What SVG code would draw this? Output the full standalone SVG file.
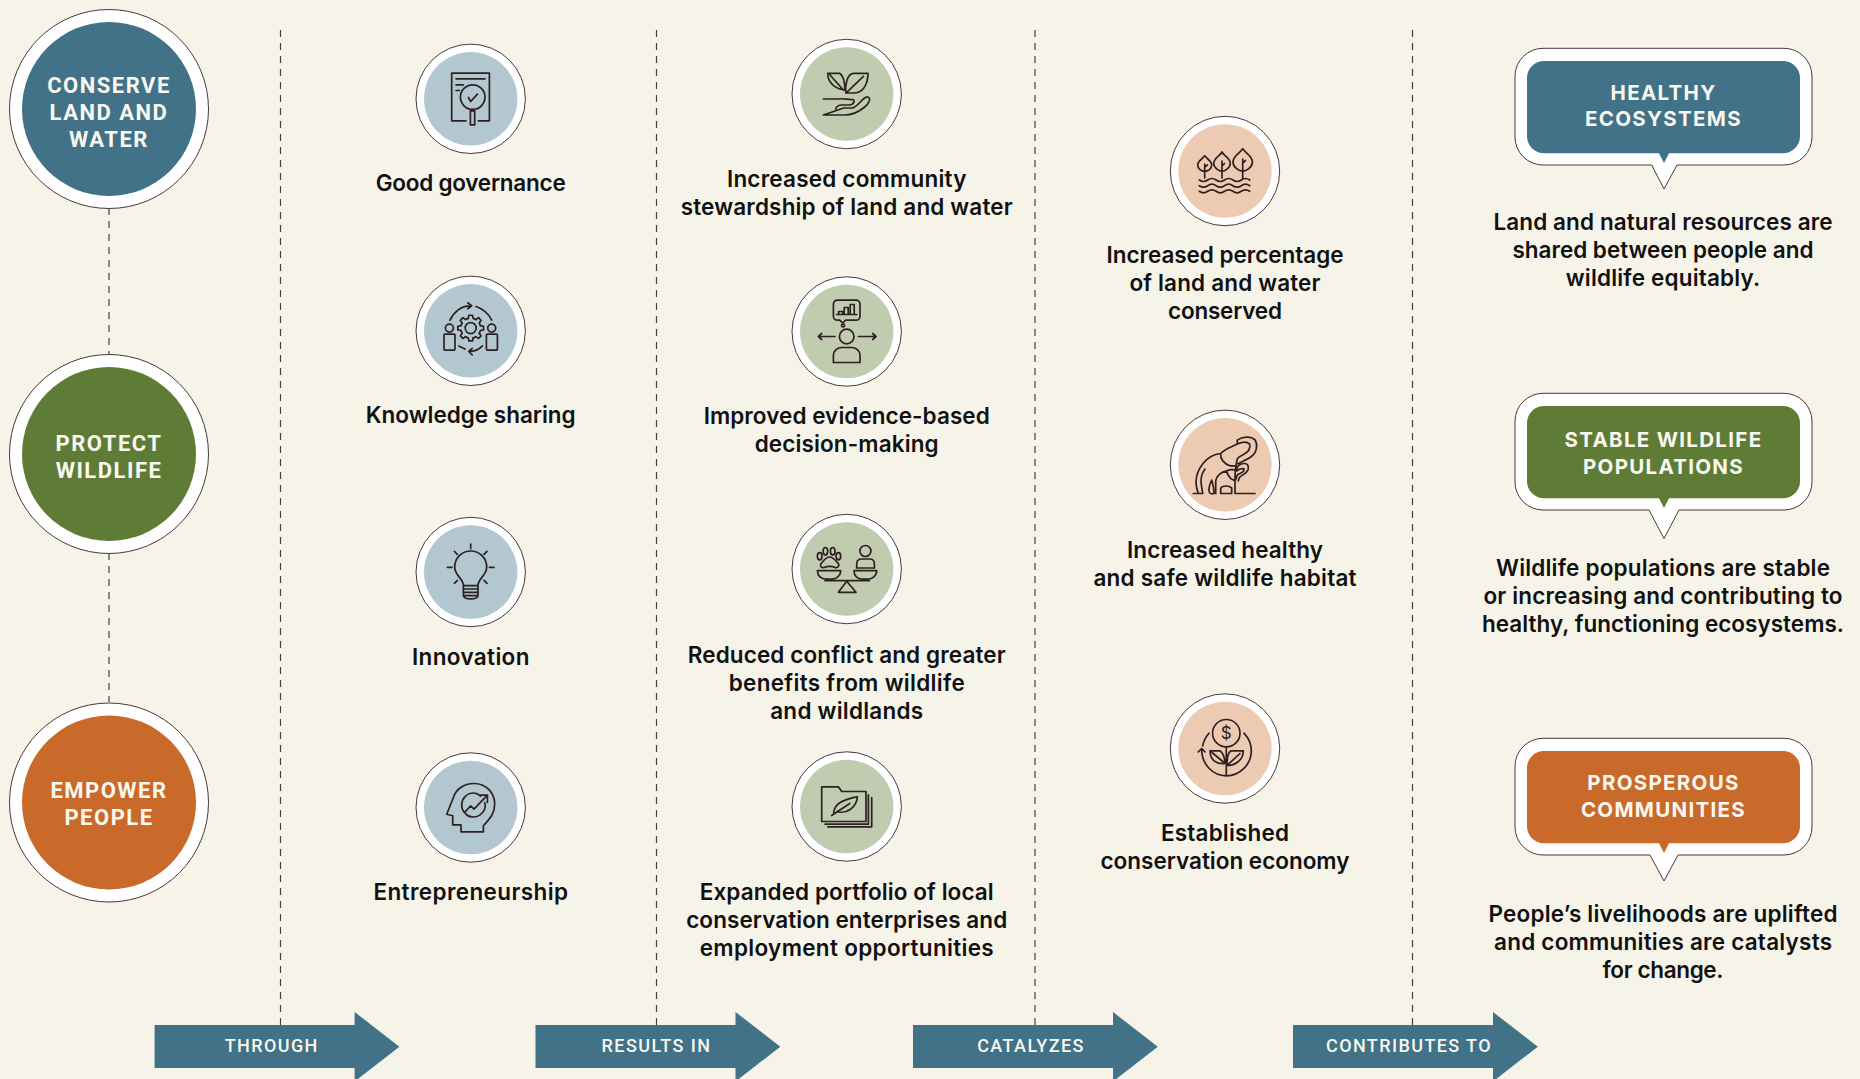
<svg xmlns="http://www.w3.org/2000/svg" width="1860" height="1079" viewBox="0 0 1860 1079">
<defs>
<style>
.l{font-family:"Inter","Liberation Sans",sans-serif;font-weight:600;font-size:22.500px;fill:#111;text-anchor:middle}
.c{font-family:"Roboto","Liberation Sans",sans-serif;font-weight:700;font-size:22px;letter-spacing:1.500px;fill:#f9f8f0;text-anchor:middle}
.b{font-family:"Inter","Liberation Sans",sans-serif;font-weight:700;font-size:20.500px;letter-spacing:1.300px;fill:#f9f8f0;text-anchor:middle}
.a{font-family:"Roboto","Liberation Sans",sans-serif;font-weight:500;font-size:18px;letter-spacing:1.400px;fill:#f9f8f0;text-anchor:middle}
.dash{stroke:#4a3d3a;stroke-width:1.2;stroke-dasharray:7 6;fill:none}
.ring{fill:#fff;stroke:#4a3838;stroke-width:1}
.i{fill:none;stroke:#2e2020;stroke-width:1.7;stroke-linejoin:round;stroke-linecap:round}
.blue{fill:#417287}.green{fill:#5f7c37}.orange{fill:#c9692a}
.lb{fill:#b3c7d0}.lg{fill:#c1cbb0}.lp{fill:#edcbb2}
</style>
<path id="arrow" d="M0 13H200V0L244.800 34.700L200 69.500V56H0Z" fill="#417287"/>
<path id="gt" d="M9.700 -2.420L12.870 -1.810V1.810L9.700 2.420A10 10 0 0 1 8.570 5.150" class="i"/>
<path id="bin" d="M1544 61H1783A17 17 0 0 1 1800 78V136.300A17 17 0 0 1 1783 153.300H1669L1664 163L1659 153.300H1544A17 17 0 0 1 1527 136.300V78A17 17 0 0 1 1544 61Z"/>
</defs>
<rect width="1860" height="1079" fill="#f6f4e9"/>
<g id="connectors">
<path class="dash" d="M280.500 30V1068M656.500 30V1068M1035 30V1068M1412.500 30V1068M109 208V355M109 553V702"/>
</g>
<g id="node-conserve"><circle class="ring" cx="109" cy="109" r="99.500"/><circle class="blue" cx="109" cy="109" r="87"/>
<text class="c" x="109" y="92.500">CONSERVE</text><text class="c" x="109" y="119.500">LAND AND</text><text class="c" x="109" y="146.500">WATER</text></g>
<g id="node-protect"><circle class="ring" cx="109" cy="454" r="99.500"/><circle class="green" cx="109" cy="454" r="87"/>
<text class="c" x="109" y="451">PROTECT</text><text class="c" x="109" y="478">WILDLIFE</text></g>
<g id="node-empower"><circle class="ring" cx="109" cy="802.500" r="99.500"/><circle class="orange" cx="109" cy="802.500" r="87"/>
<text class="c" x="109" y="798">EMPOWER</text><text class="c" x="109" y="825">PEOPLE</text></g>

<g id="node-governance"><g transform="translate(470.700 98.800)"><circle class="ring" r="54.700"/><circle class="lb" r="46.700"/>
<path class="i" d="M-4.700 22H-19V-25.700H18.700V22H7.700M-14.700-20H14.300M-14.700-14H-7.300M-14.700-8.300H-11.300M-.3 12H4V26H-.3ZM1.800 10.600V12M-2.300-1.300L0 2.700L6.700-4.700"/><circle class="i" cx="2" cy="-1.700" r="12.300"/></g>
<text class="l" x="470.700" y="190.500" textLength="190">Good governance</text></g>

<g id="node-knowledge"><g transform="translate(470.700 330.800)"><circle class="ring" r="54.700"/><circle class="lb" r="46.700"/>
<g transform="translate(0 -2.700)"><use href="#gt"/><use href="#gt" transform="rotate(45)"/><use href="#gt" transform="rotate(90)"/><use href="#gt" transform="rotate(135)"/><use href="#gt" transform="rotate(180)"/><use href="#gt" transform="rotate(225)"/><use href="#gt" transform="rotate(270)"/><use href="#gt" transform="rotate(315)"/><circle class="i" r="5.500"/></g>
<path class="i" d="M-20.700-10.700C-17-19-9-25-1-25M-3-28L1-25L-3-22M5.300-24.300C12-22 18-17 21-10.700M11.700 15C8 19 3 20.700-1.700 20.700M1.500 17.500L-2 20.700L1.500 24M-12 15.300L-5.700 18.300"/>
<circle class="i" cx="-21.300" cy="-2.700" r="4"/><circle class="i" cx="21" cy="-2.700" r="4"/><rect class="i" x="-26.700" y="3.300" width="11" height="16" rx="1"/><rect class="i" x="15.700" y="3.300" width="11" height="16" rx="1"/></g>
<text class="l" x="470.700" y="422.500" textLength="210">Knowledge sharing</text></g>

<g id="node-innovation"><g transform="translate(470.700 572)"><circle class="ring" r="54.700"/><circle class="lb" r="46.700"/>
<path class="i" d="M-7.300 13.700C-7.300 6-16 4-16-5A16 16 0 1 1 16-5C16 4 7.300 6 7.300 13.700M-7.300 13.700H7.300M-7.300 17H7.300M-7.300 20.300H7.300M-7.300 23.700H7.300M-7.300 13.700V23.700C-6 28 6 28 7.300 23.700V13.700M0-28V-23.300M-16.300-20.700L-13.300-17.700M16.300-20.700L13.300-17.700M-23.300-4.700H-18.700M23.300-4.700H18.700M-16.300 11.300L-13.300 8.300M16.300 11.300L13.300 8.300"/></g>
<text class="l" x="470.700" y="665" textLength="117.500">Innovation</text></g>

<g id="node-entrepreneurship"><g transform="translate(470.700 807.500)"><circle class="ring" r="54.700"/><circle class="lb" r="46.700"/>
<path class="i" d="M12.700 24.300V18.300C18 12 24 7 24-3.300C24-15 15-24 3.300-24C-7-24-15-18-17.300-10L-24 6.700L-18 8.300V17.300H-9.700V24.300ZM-6.300 5L0-1.700L3.300 1.700L16.700-12.300M9.300-12.300H16.700V-5M10-11.500C7-14 4-14.500 2.700-14.500C-4-14.500-9-9-9-2.700C-9 1-7 5-4 7M14-5C14.500-3.500 14.500-2.700 14.500-2C14.500 4 9 9.500 2.700 9.500C0 9.500-2 9-4 7.500"/></g>
<text class="l" x="470.700" y="900" textLength="194.500">Entrepreneurship</text></g>

<g id="node-stewardship"><g transform="translate(846.700 94)"><circle class="ring" r="54.700"/><circle class="lg" r="46.700"/>
<path class="i" d="M-19-20.700H-7C-3-18-2-12-1.700-4C-10-5-19-10-19-20.700ZM-16.700-19L-3.300-4M21.300-20.700H7C0-20.700-1.500-8-1-1H7C15-1 21.300-8 21.300-20.700ZM0-1.700L16.700-17.700M-23.300 5H-8C-3 4 1 6 6 5.500C9 6 7 11 3 11H-5C-8 11-10 12-11 15M-3 14H6C12 12 17 2 21 3C25 4 22 10 18 13C12 18 6 21-2 21H-23.300Z"/></g>
<text class="l" x="846.700" y="186.500" textLength="239.500">Increased community</text><text class="l" x="846.700" y="214.500" textLength="332">stewardship of land and water</text></g>

<g id="node-evidence"><g transform="translate(846.700 331.500)"><circle class="ring" r="54.700"/><circle class="lg" r="46.700"/>
<path class="i" d="M-9.300-31.300H9.300A4 4 0 0 1 13.300-27.300V-15.300A4 4 0 0 1 9.300-11.300H-1L-4-8.500L-7-11.300H-9.300A4 4 0 0 1-13.300-15.300V-27.300A4 4 0 0 1-9.300-31.300ZM-10-17H10M-8-17V-20H-4V-17M-2.500-17V-24H1.500V-17M3.500-17V-27H7.500V-17M-28.300 5H-11.700M11.700 5H29.300M-25 2L-28.300 5L-25 8M26 2L29.300 5L26 8M-13.300 31V24C-13.300 19-9 16-5 16H5C9 16 13.300 19 13.300 24V31Z"/><circle class="i" cy="5" r="7.300"/><circle class="i" cx="-3.700" cy="-6" r="1.500"/></g>
<text class="l" x="846.700" y="423.500" textLength="286">Improved evidence-based</text><text class="l" x="846.700" y="451.500" textLength="184">decision-making</text></g>

<g id="node-conflict"><g transform="translate(846.700 569)"><circle class="ring" r="54.700"/><circle class="lg" r="46.700"/>
<path class="i" d="M-29.300 1.700H-6C-6 7-11 10-14 10H-21C-25 10-29.300 7-29.300 1.700ZM7.300 1.700H30C30 7 25 10 22 10H15C11 10 7.300 7 7.300 1.700ZM-21.700 11.700H22.700M0 12.300L-8.300 23.300H9.300ZM10-1V-5C10-9 13-10 15-10H23C25-10 27.700-9 27.700-5V-1ZM-17.300-12C-13-12-10-7-8-5C-7-2-10-1-12-1.500C-14-3-20-3-22.500-1.500C-24.500-1-27-2-26-5C-24-7-21-12-17.300-12Z"/><circle class="i" cx="18.700" cy="-18" r="5.500"/><ellipse class="i" cx="-27" cy="-12.700" rx="2.300" ry="3.600"/><ellipse class="i" cx="-21.300" cy="-17.700" rx="2.300" ry="3.800"/><ellipse class="i" cx="-14" cy="-17.700" rx="2.300" ry="3.800"/><ellipse class="i" cx="-8.300" cy="-12.700" rx="2.300" ry="3.600"/></g>
<text class="l" x="846.700" y="663" textLength="318">Reduced conflict and greater</text><text class="l" x="846.700" y="691" textLength="236">benefits from wildlife</text><text class="l" x="846.700" y="719" textLength="153">and wildlands</text></g>

<g id="node-portfolio"><g transform="translate(846.700 806.500)"><circle class="ring" r="54.700"/><circle class="lg" r="46.700"/>
<path class="i" d="M-25-19.700H-8.300L-5-15H19.300V15H-25ZM21.700-11.700V17.700H-21.700M25-9V20.300H-19M-15 9L3-3M-13 6C-12-5 0-7 10.700-10C10 1 0 8-10 5"/></g>
<text class="l" x="846.700" y="899.500" textLength="294">Expanded portfolio of local</text><text class="l" x="846.700" y="927.500" textLength="321">conservation enterprises and</text><text class="l" x="846.700" y="955.500" textLength="294">employment opportunities</text></g>

<g id="node-percentage"><g transform="translate(1225 171)"><circle class="ring" r="54.700"/><circle class="lp" r="46.700"/>
<path class="i" d="M-20.300-15.300C-18.500-12-13.300-10.500-13.300-6C-13.300-2-17 .3-20.300 .3C-23.600 .3-27.300-2-27.300-6C-27.300-10.500-22.100-12-20.300-15.300ZM-20.300 7V-7M-20.300-4L-17.500-6M-3-19C-1-15 5.300-13 5.300-7.500C5.300-3-.5 .3-3 .3C-5.500 .3-11.300-3-11.300-7.500C-11.300-13-5-15-3-19ZM-3 7V-10M-3-5L-.5-7.500M17.700-22.300C20-18 27.400-15.500 27.400-9C27.400-3.500 21 .3 17.700 .3C14.400 .3 8-3.500 8-9C8-15.500 15.400-18 17.700-22.300ZM17.700 7V-12M17.700-8L20.500-10.500M-25.700 9q4.200 3 8.400 0t8.400 0t8.400 0t8.400 0t8.400 0t8.400 0M-25.700 14.700q4.200 3 8.400 0t8.400 0t8.400 0t8.400 0t8.400 0t8.400 0M-25.700 20.300q4.200 3 8.400 0t8.400 0t8.400 0t8.400 0t8.400 0t8.400 0"/></g>
<text class="l" x="1225" y="263" textLength="237">Increased percentage</text><text class="l" x="1225" y="291" textLength="191">of land and water</text><text class="l" x="1225" y="319" textLength="114">conserved</text></g>

<g id="node-habitat"><g transform="translate(1225 464.800)"><circle class="ring" r="54.700"/><circle class="lp" r="46.700"/>
<path class="i" d="M-31.700 28.700H-22.300C-23 24-24 20-24 16C-24 11-22 7-20 4.300M-26.700 28.700C-28 25-29 21-29 17.700C-29 5-19-10-4.300-11.300C0-16 6-17.500 12.300-20.700V-24.700C17-28.300 26-29 30-25C33-20 32-12 26-8C22-5 16-3 13-1M12.300-20.700C17-23 22-23.500 24.700-20.700C26-15 22-12 18-10C15-8.500 12.500-7.500 12-5L11 1M-4.300-11.300C-5-6-1-1 5 1H11C10 6 10 12 10 16V28.700H30M-13.300 15.300C-15 19-16.500 23-16 26C-16 29-13 29.500-11 28.700C-11 24-12 19-13.300 15.300ZM-9.300 28.700V16C-8.500 11-4 7 1.700 6C5 4.500 9 4.500 12 6V3C13 0 17-1.500 20-1.300C23-1 24 2 23 5C21.500 8.500 17 10.500 15 12C14 13 13.500 15 13.300 16M12 6C14 4 17 3.500 19 4C19.500 6 17 8 14.500 9L12.300 10C12 12 11 14 10 16L6 14C4 12 2 10 1.700 6M-4.300 28.700V23.300C-3 21 4 20 6.700 23.300V28.700Z"/></g>
<text class="l" x="1225" y="557.500" textLength="196">Increased healthy</text><text class="l" x="1225" y="585.500" textLength="263">and safe wildlife habitat</text></g>

<g id="node-economy"><g transform="translate(1225 748.500)"><circle class="ring" r="54.700"/><circle class="lp" r="46.700"/>
<circle class="i" cx="1.300" cy="-15.300" r="13.700"/><text x="1.300" y="-9.500" text-anchor="middle" font-family="Inter,'Liberation Sans',sans-serif" font-size="17" fill="#2e2020">$</text>
<path class="i" d="M1.300-1.700V26.300M19-15.300C24-10 26.300-4 26.300 2.300C26.300 16 15 27.300 1.300 27.300C-12 27.300-23.300 16-23.300 1M-16-15.300C-19-12-21.500-7-22.300-2.700M-26.700 3.300L-23.300 0L-20 3.300M-15 2.300H-5C-2 4 0 10 0 15C-8 16-15 12-15 2.300ZM-13 4L-1 14M18.300 2.300H6C3 4 2 10 2 17C10 17 18.300 12 18.300 2.300ZM2 17L15 5"/></g>
<text class="l" x="1225" y="841" textLength="128">Established</text><text class="l" x="1225" y="869" textLength="249">conservation economy</text></g>

<g id="node-ecosystems"><path class="ring" d="M1543 48.300H1784A28 28 0 0 1 1812 76V137A28 28 0 0 1 1784 165H1677L1664 189L1651.700 165H1543A28 28 0 0 1 1515 137V76A28 28 0 0 1 1543 48.300Z"/><use href="#bin" class="blue"/>
<text class="b" x="1663.500" y="100">HEALTHY</text><text class="b" x="1663.500" y="126">ECOSYSTEMS</text>
<text class="l" x="1663" y="229.800" textLength="339">Land and natural resources are</text><text class="l" x="1663" y="257.800" textLength="301">shared between people and</text><text class="l" x="1663" y="286" textLength="194.500">wildlife equitably.</text></g>

<g id="node-populations"><path class="ring" transform="translate(0 345)" d="M1543 48.300H1784A28 28 0 0 1 1812 76V137A28 28 0 0 1 1784 165H1679L1664 193.500L1649 165H1543A28 28 0 0 1 1515 137V76A28 28 0 0 1 1543 48.300Z"/><use href="#bin" y="345" class="green"/>
<text class="b" x="1663.500" y="446.500">STABLE WILDLIFE</text><text class="b" x="1663.500" y="473.500">POPULATIONS</text>
<text class="l" x="1663" y="576" textLength="334">Wildlife populations are stable</text><text class="l" x="1663" y="604" textLength="359">or increasing and contributing to</text><text class="l" x="1663" y="632" textLength="362">healthy, functioning ecosystems.</text></g>

<g id="node-communities"><path class="ring" transform="translate(0 690)" d="M1543 48.300H1784A28 28 0 0 1 1812 76V137A28 28 0 0 1 1784 165H1678L1664 191L1650 165H1543A28 28 0 0 1 1515 137V76A28 28 0 0 1 1543 48.300Z"/><use href="#bin" y="690" class="orange"/>
<text class="b" x="1663.500" y="790">PROSPEROUS</text><text class="b" x="1663.500" y="817">COMMUNITIES</text>
<text class="l" x="1663" y="922" textLength="349">People’s livelihoods are uplifted</text><text class="l" x="1663" y="950" textLength="338">and communities are catalysts</text><text class="l" x="1663" y="978" textLength="121">for change.</text></g>

<g id="arrow-through"><use href="#arrow" x="154.600" y="1012"/><text class="a" x="271.700" y="1052">THROUGH</text></g>
<g id="arrow-results"><use href="#arrow" x="535.500" y="1012"/><text class="a" x="656.500" y="1052">RESULTS IN</text></g>
<g id="arrow-catalyzes"><use href="#arrow" x="913" y="1012"/><text class="a" x="1031" y="1052">CATALYZES</text></g>
<g id="arrow-contributes"><use href="#arrow" x="1293" y="1012"/><text class="a" x="1409" y="1052">CONTRIBUTES TO</text></g>
</svg>
